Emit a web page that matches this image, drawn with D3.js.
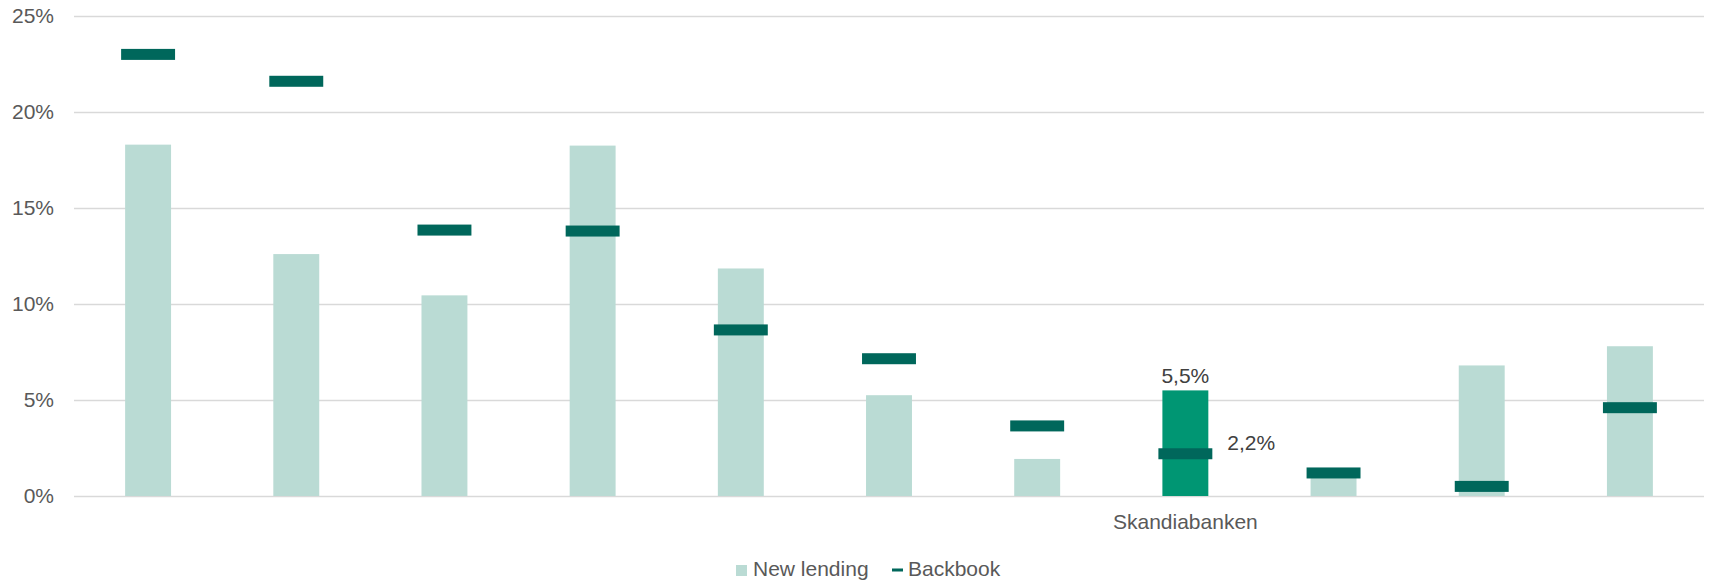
<!DOCTYPE html>
<html>
<head>
<meta charset="utf-8">
<script src="https://cdn.jsdelivr.net/npm/d3@7"></script>
<style>
  html, body { margin: 0; padding: 0; background: #fff; }
  svg { display: block; font-family: "Liberation Sans", Arial, sans-serif; }
</style>
</head>
<body>
<svg id="chart" width="1710" height="582"></svg>
<script>
// Lending margins per bank (%), only Skandiabanken is named
const categories = ["b1", "b2", "b3", "b4", "b5", "b6", "b7", "Skandiabanken", "b9", "b10", "b11"];
const categoryLabels = ["", "", "", "", "", "", "", "Skandiabanken", "", "", ""];
const newLending = [18.3, 12.6, 10.45, 18.25, 11.85, 5.25, 1.93, 5.5, 1.0, 6.8, 7.8];
const backbook = [23.0, 21.6, 13.85, 13.8, 8.65, 7.15, 3.65, 2.2, 1.2, 0.5, 4.6];
const yTicks = [0, 5, 10, 15, 20, 25];
const highlight = "Skandiabanken";

const svg = d3.select("#chart");
const margin = { left: 74, right: 6, top: 16, bottom: 86 };
const W = 1710, H = 582;

const x = d3.scaleBand()
  .domain(categories)
  .range([margin.left, W - margin.right])
  .paddingInner(0.69)
  .paddingOuter(0.345);

const y = d3.scaleLinear().domain([0, 25]).range([H - margin.bottom, margin.top]);

const fmt = d => d.toString().replace(".", ",") + "%";

// gridlines + y tick labels
const yAxis = d3.axisLeft(y)
  .tickValues(yTicks)
  .tickSize(-(W - margin.right - margin.left))
  .tickPadding(20)
  .tickFormat(d => d + "%");

const gy = svg.append("g")
  .attr("transform", `translate(${margin.left},0)`)
  .call(yAxis);
gy.select(".domain").remove();
gy.selectAll(".tick line").attr("stroke", "#D9D9D9").attr("stroke-width", 1.5);
gy.selectAll(".tick text")
  .attr("fill", "#595959")
  .attr("font-size", 21)
  .attr("font-family", "Liberation Sans, Arial, sans-serif");

// new lending bars
const rows = categories.map((c, i) => ({ c, nl: newLending[i], bb: backbook[i] }));

svg.append("g").selectAll("rect")
  .data(rows)
  .join("rect")
  .attr("x", d => x(d.c))
  .attr("width", x.bandwidth())
  .attr("y", d => y(d.nl))
  .attr("height", d => y(0) - y(d.nl))
  .attr("fill", d => d.c === highlight ? "#009673" : "#BADBD4");

// backbook markers
const mW = x.bandwidth() + 8, mH = 11;
svg.append("g").selectAll("rect")
  .data(rows)
  .join("rect")
  .attr("x", d => x(d.c) + x.bandwidth() / 2 - mW / 2)
  .attr("width", mW)
  .attr("y", d => y(d.bb) - mH / 2)
  .attr("height", mH)
  .attr("fill", "#00675B");

// value labels for the highlighted bank
const hi = rows.find(d => d.c === highlight);
svg.append("text")
  .attr("x", x(hi.c) + x.bandwidth() / 2)
  .attr("y", y(hi.nl) - 7)
  .attr("text-anchor", "middle")
  .attr("font-size", 21)
  .attr("fill", "#404040")
  .text(fmt(hi.nl));
svg.append("text")
  .attr("x", x(hi.c) + x.bandwidth() / 2 + mW / 2 + 15)
  .attr("y", y(hi.bb) - 4)
  .attr("font-size", 21)
  .attr("fill", "#404040")
  .text(fmt(hi.bb));

// category labels
const xAxis = d3.axisBottom(x).tickSize(0).tickPadding(18).tickFormat((d, i) => categoryLabels[i]);
const gx = svg.append("g")
  .attr("transform", `translate(0,${y(0)})`)
  .call(xAxis);
gx.select(".domain").remove();
gx.selectAll(".tick text")
  .attr("fill", "#595959")
  .attr("font-size", 21)
  .attr("font-family", "Liberation Sans, Arial, sans-serif");

// legend
const lg = svg.append("g").attr("transform", "translate(736,576)");
lg.append("rect").attr("x", 0).attr("y", -11).attr("width", 11).attr("height", 11).attr("fill", "#BADBD4");
lg.append("text").attr("x", 17).attr("y", 0).attr("font-size", 21).attr("fill", "#595959").text("New lending");
lg.append("rect").attr("x", 156).attr("y", -7.5).attr("width", 11).attr("height", 3).attr("fill", "#00675B");
lg.append("text").attr("x", 172).attr("y", 0).attr("font-size", 21).attr("fill", "#595959").text("Backbook");
</script>
</body>
</html>
